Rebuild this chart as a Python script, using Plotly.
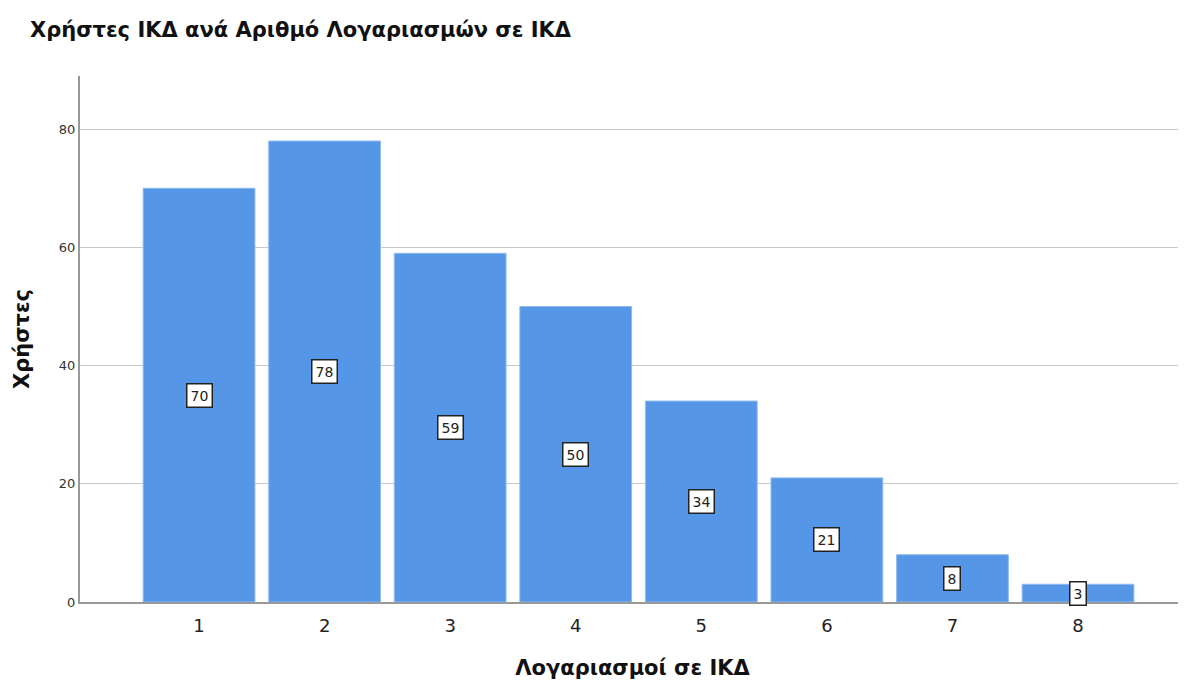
import plotly.graph_objects as go

# data
accounts = [1, 2, 3, 4, 5, 6, 7, 8]
users = [70, 78, 59, 50, 34, 21, 8, 3]
y_ticks = [0, 20, 40, 60, 80]

title_text = "Χρήστες ΙΚΔ ανά Αριθμό Λογαριασμών σε ΙΚΔ"
x_title = "Λογαριασμοί σε ΙΚΔ"
y_title = "Χρήστες"

# the page body has an 8px margin, so offsets below are shifted by 8
fig = go.Figure(
    go.Bar(
        x=accounts,
        y=users,
        width=0.89,
        marker=dict(color="#5596e6", line=dict(color="#8fbaf0", width=1)),
        hoverinfo="x+y",
    )
)

# boxed value labels at mid-height of each bar
for a, u in zip(accounts, users):
    fig.add_annotation(
        x=a, y=u / 2, text=str(u), showarrow=False,
        font=dict(family="DejaVu Sans", size=14, color="#222"),
        bgcolor="white", bordercolor="#222", borderwidth=1.5, borderpad=3,
    )

fig.update_layout(
    width=1186, height=680,
    paper_bgcolor="white", plot_bgcolor="white",
    margin=dict(l=72, r=9, t=68, b=86),
    showlegend=False,
    title=dict(
        text="<b>" + title_text + "</b>",
        xref="container", x=22 / 1186, xanchor="left",
        yref="container", y=1 - 22 / 680, yanchor="middle",
        font=dict(family="DejaVu Sans", size=21, color="#111"),
    ),
    xaxis=dict(
        range=[0.052, 8.852],
        tickvals=accounts,
        ticks="",
        ticklabelstandoff=6,
        showgrid=False,
        showline=True, linecolor="#999", linewidth=2,
        tickfont=dict(family="DejaVu Sans", size=18, color="#222"),
        title=dict(text="<b>" + x_title + "</b>", font=dict(family="DejaVu Sans", size=21, color="#111"), standoff=26),
        zeroline=False,
    ),
    yaxis=dict(
        range=[0, 89],
        tickvals=y_ticks,
        ticks="",
        showgrid=True, gridcolor="#c8c8c8", gridwidth=1,
        showline=True, linecolor="#999", linewidth=2,
        tickfont=dict(family="DejaVu Sans", size=13, color="#333"),
        title=dict(text="<b>" + y_title + "</b>", font=dict(family="DejaVu Sans", size=21, color="#111"), standoff=24),
        zeroline=False,
    ),
)

fig.write_html("out.html")
